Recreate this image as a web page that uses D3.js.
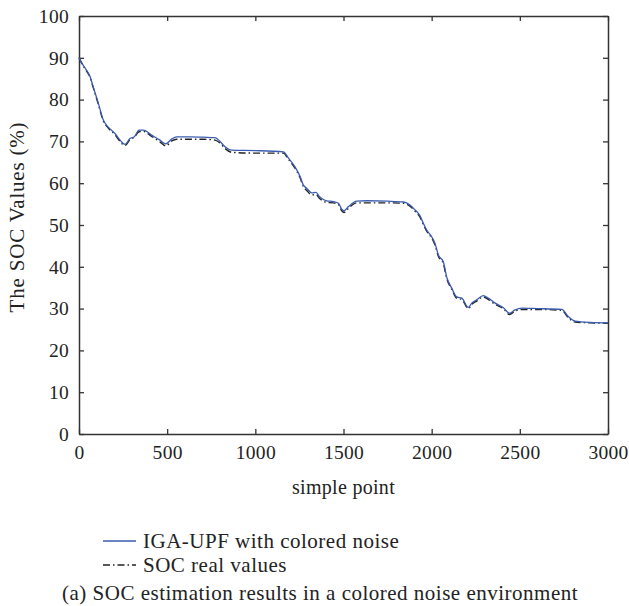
<!DOCTYPE html>
<html>
<head>
<meta charset="utf-8">
<script src="https://cdn.jsdelivr.net/npm/d3@7"></script>
<style>
  body { margin: 0; background: #fff; }
  text { font-family: "Liberation Serif", "DejaVu Serif", serif; fill: #222; }
</style>
</head>
<body>
<script>
// sample points along x (simple point)
const samplePoints = [0, 20, 45, 62, 80, 110, 138, 166, 204, 233, 261, 289, 314, 340, 365, 412, 459, 492, 526, 554,
  630, 705, 771, 800, 828, 866, 1000, 1159, 1188, 1225, 1254, 1272, 1291, 1320, 1344, 1363, 1386, 1405, 1443, 1471,
  1490, 1503, 1528, 1575, 1632, 1750, 1840, 1877, 1906, 1934, 1953, 1972, 2000, 2019, 2038, 2066, 2085, 2114, 2142, 2171,
  2208, 2227, 2255, 2293, 2321, 2360, 2407, 2441, 2473, 2511, 2600, 2738, 2775, 2813, 2900, 3000];

// IGA-UPF estimate (blue)
const estimated = [90, 88.5, 86.9, 85.6, 83.1, 79.1, 75.1, 73.4, 71.9, 70.3, 69.3, 70.7, 71.1, 72.7, 72.7, 71.5, 70.3, 69.4, 70.6, 71.1,
  71.1, 71.0, 70.9, 70.0, 68.7, 67.9, 67.8, 67.5, 66.0, 63.9, 61.6, 59.6, 58.8, 57.7, 57.8, 56.8, 56.1, 55.8, 55.6, 55.2,
  53.8, 53.4, 54.4, 55.7, 55.8, 55.7, 55.5, 54.8, 53.6, 52.2, 50.4, 48.8, 47.2, 45.6, 42.8, 41.2, 37.6, 34.9, 32.8, 32.5,
  30.3, 31.3, 32.1, 33.1, 32.5, 31.3, 30.2, 28.9, 29.7, 30.1, 30.0, 29.8, 28.1, 27.0, 26.7, 26.6];

// SOC real values (black dash-dot)
const realValues = [90, 88.3, 86.7, 85.4, 83.0, 78.8, 74.9, 73.2, 71.6, 70.0, 69.0, 70.4, 71.0, 72.3, 72.4, 71.2, 69.9, 68.9, 70.1, 70.5,
  70.5, 70.5, 70.3, 69.6, 68.3, 67.4, 67.2, 67.2, 65.7, 63.6, 61.3, 59.2, 58.3, 57.2, 57.3, 56.4, 55.7, 55.4, 55.3, 54.9,
  53.4, 53.0, 54.0, 55.3, 55.3, 55.3, 55.2, 54.5, 53.3, 51.9, 50.1, 48.5, 46.9, 45.2, 42.5, 40.8, 37.3, 34.6, 32.5, 32.2,
  30.0, 31.0, 31.8, 32.8, 32.2, 31.0, 30.0, 28.6, 29.4, 29.8, 29.8, 29.6, 27.8, 26.8, 26.6, 26.5];

const xTicks = [0, 500, 1000, 1500, 2000, 2500, 3000];
const yTicks = [0, 10, 20, 30, 40, 50, 60, 70, 80, 90, 100];
const legendLabels = ["IGA-UPF with colored noise", "SOC real values"];
const caption = "(a)  SOC estimation results in a colored noise environment";

const W = 629, H = 606;
const margin = {left: 79, right: 21, top: 16, bottom: 172};
const pw = W - margin.left - margin.right;
const ph = H - margin.top - margin.bottom;

const svg = d3.select("body").append("svg")
    .attr("width", W)
    .attr("height", H);

const x = d3.scaleLinear().domain([0, 3000]).range([margin.left, margin.left + pw]);
const y = d3.scaleLinear().domain([0, 100]).range([margin.top + ph, margin.top]);

const axisColor = "#333";

// axes with inward ticks, box on all four sides
const gx = svg.append("g")
    .attr("transform", `translate(0,${margin.top + ph})`)
    .call(d3.axisBottom(x).tickValues(xTicks).tickFormat(d3.format("d"))
      .tickSizeInner(-5).tickSizeOuter(0).tickPadding(11));
const gxTop = svg.append("g")
    .attr("transform", `translate(0,${margin.top})`)
    .call(d3.axisTop(x).tickValues(xTicks).tickSizeInner(-5).tickSizeOuter(0).tickFormat(""));
const gy = svg.append("g")
    .attr("transform", `translate(${margin.left},0)`)
    .call(d3.axisLeft(y).tickValues(yTicks).tickSizeInner(-5).tickSizeOuter(0).tickPadding(10));
const gyRight = svg.append("g")
    .attr("transform", `translate(${margin.left + pw},0)`)
    .call(d3.axisRight(y).tickValues(yTicks).tickSizeInner(-5).tickSizeOuter(0).tickFormat(""));

[gx, gxTop, gy, gyRight].forEach(g => {
  g.select(".domain").attr("stroke", axisColor).attr("stroke-width", 1.5);
  g.selectAll(".tick line").attr("stroke", axisColor).attr("stroke-width", 1.3);
  g.selectAll(".tick text")
      .attr("font-family", "Liberation Serif, serif")
      .attr("font-size", 19.5)
      .attr("letter-spacing", 0.3)
      .attr("fill", "#222");
});

const line = d3.line()
    .x((d, i) => x(samplePoints[i]))
    .y(d => y(d))
    .curve(d3.curveMonotoneX);

svg.append("path")
    .datum(realValues)
    .attr("fill", "none")
    .attr("stroke", "#222")
    .attr("stroke-width", 1.4)
    .attr("stroke-dasharray", "7,3,1.5,3")
    .attr("d", line);

svg.append("path")
    .datum(estimated)
    .attr("fill", "none")
    .attr("stroke", "#3a5cb0")
    .attr("stroke-width", 1.3)
    .attr("d", line);

// axis titles
svg.append("text")
    .attr("x", margin.left + pw / 2)
    .attr("y", 494)
    .attr("text-anchor", "middle")
    .attr("font-size", 20)
    .attr("letter-spacing", 0.3)
    .text("simple point");

svg.append("text")
    .attr("transform", `translate(24,217) rotate(-90)`)
    .attr("text-anchor", "middle")
    .attr("font-size", 21)
    .attr("letter-spacing", 0.8)
    .text("The SOC Values (%)");

// legend
const legend = svg.selectAll(".legend")
    .data(legendLabels)
    .enter().append("g")
    .attr("class", "legend")
    .attr("transform", (d, i) => `translate(103,${541 + i * 24})`);

legend.append("line")
    .attr("x1", 0).attr("x2", 33)
    .attr("stroke", (d, i) => i === 0 ? "#3a5cb0" : "#222")
    .attr("stroke-width", (d, i) => i === 0 ? 1.3 : 1.4)
    .attr("stroke-dasharray", (d, i) => i === 0 ? null : "7,3,1.5,3");

legend.append("text")
    .attr("x", 40)
    .attr("dy", "0.35em")
    .attr("font-size", 21)
    .attr("letter-spacing", 0.5)
    .text(d => d);

svg.append("text")
    .attr("x", 62)
    .attr("y", 600)
    .attr("font-size", 21)
    .attr("letter-spacing", 0.5)
    .text(caption);
</script>
</body>
</html>
